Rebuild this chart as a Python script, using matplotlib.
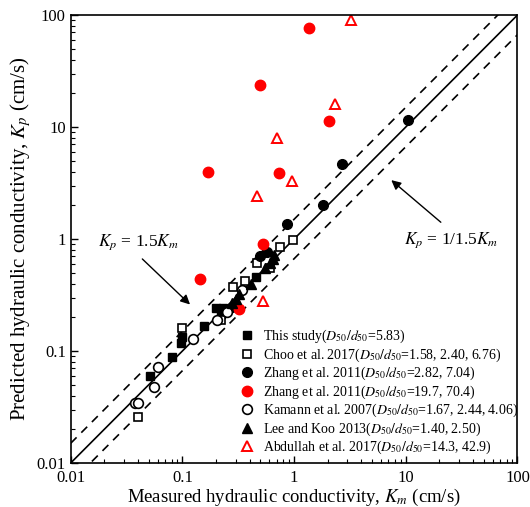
import matplotlib
matplotlib.use("Agg")
import matplotlib.pyplot as plt
import numpy as np

plt.rcParams['font.family'] = ['Liberation Serif', 'DejaVu Serif']
plt.rcParams['mathtext.fontset'] = 'stix'

# Measured (Km) vs predicted (Kp) hydraulic conductivity, cm/s
this_km = [0.051, 0.080, 0.097, 0.100, 0.156, 0.20, 0.22, 0.23, 0.46]
this_kp = [0.060, 0.088, 0.118, 0.132, 0.167, 0.24, 0.215, 0.24, 0.455]

choo_km = [0.040, 0.099, 0.22, 0.285, 0.36, 0.47, 0.61, 0.75, 0.97]
choo_kp = [0.026, 0.160, 0.19, 0.37, 0.42, 0.61, 0.55, 0.84, 0.97]

zhang_b_km = [0.28, 0.50, 0.57, 0.87, 1.8, 2.67, 10.4]
zhang_b_kp = [0.245, 0.70, 0.77, 1.36, 2.0, 4.7, 11.5]

zhang_r_km = [0.144, 0.17, 0.32, 0.50, 0.53, 0.74, 1.37, 2.07]
zhang_r_kp = [0.437, 4.0, 0.236, 23.5, 0.90, 3.85, 76.0, 11.4]

kamann_km = [0.038, 0.040, 0.056, 0.060, 0.125, 0.205, 0.25, 0.345]
kamann_kp = [0.034, 0.034, 0.048, 0.072, 0.128, 0.19, 0.225, 0.35]

lee_km = [0.28, 0.30, 0.32, 0.41, 0.55, 0.61, 0.65, 0.66]
lee_kp = [0.27, 0.29, 0.32, 0.40, 0.55, 0.61, 0.66, 0.72]

abd_km = [0.47, 0.53, 0.70, 0.96, 2.3, 3.2]
abd_kp = [2.4, 0.28, 7.9, 3.3, 16.0, 90.0]

labels = [
    r'This study($D_{50}/d_{50}$=5.83)',
    r'Choo et al. 2017($D_{50}/d_{50}$=1.58, 2.40, 6.76)',
    r'Zhang et al. 2011($D_{50}/d_{50}$=2.82, 7.04)',
    r'Zhang et al. 2011($D_{50}/d_{50}$=19.7, 70.4)',
    r'Kamann et al. 2007($D_{50}/d_{50}$=1.67, 2.44, 4.06)',
    r'Lee and Koo 2013($D_{50}/d_{50}$=1.40, 2.50)',
    r'Abdullah et al. 2017($D_{50}/d_{50}$=14.3, 42.9)',
]

lims = [0.01, 100]
ratio = 1.5

fig = plt.figure(figsize=(5.30, 5.07), dpi=100)
ax = fig.add_axes([0.1334, 0.0868, 0.8430, 0.8836])

# 1:1 line and the +/- 1.5x bands
xl = np.array(lims)
ax.plot(xl, xl, color='black', lw=1.2, zorder=1)
ax.plot(xl, xl * ratio, color='black', lw=1.2, ls=(0, (5, 4)), zorder=1)
ax.plot(xl, xl / ratio, color='black', lw=1.2, ls=(0, (5, 4)), zorder=1)

h = []
h += ax.plot(this_km, this_kp, ls='none', marker='s', ms=6, mfc='black', mec='black')
h += ax.plot(choo_km, choo_kp, ls='none', marker='s', ms=6, mfc='white', mec='black', mew=1.2)
h += ax.plot(zhang_b_km, zhang_b_kp, ls='none', marker='o', ms=7, mfc='black', mec='black')
h += ax.plot(zhang_r_km, zhang_r_kp, ls='none', marker='o', ms=7.5, mfc='#ff0000', mec='#ff0000')
h += ax.plot(kamann_km, kamann_kp, ls='none', marker='o', ms=7, mfc='white', mec='black', mew=1.2)
h += ax.plot(lee_km, lee_kp, ls='none', marker='^', ms=7, mfc='black', mec='black')
h += ax.plot(abd_km, abd_kp, ls='none', marker='^', ms=7.5, mfc='white', mec='#ff0000', mew=1.4)

ax.set_xscale('log')
ax.set_yscale('log')
ax.set_xlim(lims)
ax.set_ylim(lims)

ticks = [0.01, 0.1, 1, 10, 100]
ticklabels = ['0.01', '0.1', '1', '10', '100']
ax.set_xticks(ticks)
ax.set_xticklabels(ticklabels)
ax.set_yticks(ticks)
ax.set_yticklabels(ticklabels)
ax.tick_params(which='both', direction='in', top=False, right=False, labelsize=12)
ax.tick_params(axis='x', pad=5)
ax.tick_params(which='major', length=5, width=1)
ax.tick_params(which='minor', length=3, width=0.8)
for s in ax.spines.values():
    s.set_linewidth(1.2)

ax.set_xlabel(r'Measured hydraulic conductivity, $K_m$ (cm/s)', fontsize=13.5, labelpad=1)
ax.set_ylabel(r'Predicted hydraulic conductivity, $K_p$ (cm/s)', fontsize=15, labelpad=3)

arrow = dict(arrowstyle='-|>', color='black', lw=1.0, mutation_scale=14)
ax.annotate('', xy=(0.122, 0.25), xytext=(0.042, 0.69), arrowprops=arrow)
ax.text(0.0408, 0.93, r'$K_p$ = 1.5$K_m$', fontsize=12.5, ha='center', va='center')
ax.annotate('', xy=(7.1, 3.48), xytext=(21.5, 1.36), arrowprops=arrow)
ax.text(25.4, 0.98, r'$K_p$ = 1/1.5$K_m$', fontsize=12.5, ha='center', va='center')

ax.legend(h, labels, loc='upper left', bbox_to_anchor=(0.380, 0.301), frameon=False,
          fontsize=10, handlelength=1.0, handletextpad=0.6, labelspacing=0.08,
          borderpad=0, borderaxespad=0)

fig.savefig('out.png', dpi=100)
